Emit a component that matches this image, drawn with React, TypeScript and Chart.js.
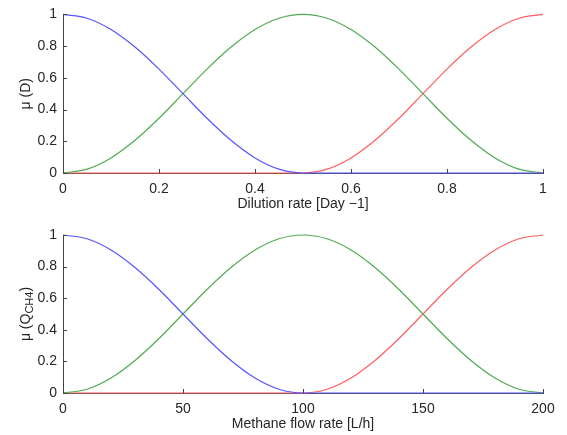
import React, { useEffect, useRef } from "react";
import { Chart, registerables } from "chart.js";
Chart.register(...registerables);

// ---- data ----
const dilutionX = [0, 0.05, 0.1, 0.15, 0.2, 0.25, 0.3, 0.35, 0.4, 0.45, 0.5, 0.55, 0.6, 0.65, 0.7, 0.75, 0.8, 0.85, 0.9, 0.95, 1];
const dilutionLow = [1, 0.976, 0.905, 0.794, 0.655, 0.5, 0.345, 0.206, 0.095, 0.024, 0, 0, 0, 0, 0, 0, 0, 0, 0, 0, 0];
const dilutionMid = [0, 0.024, 0.095, 0.206, 0.345, 0.5, 0.655, 0.794, 0.905, 0.976, 1, 0.976, 0.905, 0.794, 0.655, 0.5, 0.345, 0.206, 0.095, 0.024, 0];
const dilutionHigh = [0, 0, 0, 0, 0, 0, 0, 0, 0, 0, 0, 0.024, 0.095, 0.206, 0.345, 0.5, 0.655, 0.794, 0.905, 0.976, 1];

const methaneX = [0, 10, 20, 30, 40, 50, 60, 70, 80, 90, 100, 110, 120, 130, 140, 150, 160, 170, 180, 190, 200];
const methaneLow = [1, 0.976, 0.905, 0.794, 0.655, 0.5, 0.345, 0.206, 0.095, 0.024, 0, 0, 0, 0, 0, 0, 0, 0, 0, 0, 0];
const methaneMid = [0, 0.024, 0.095, 0.206, 0.345, 0.5, 0.655, 0.794, 0.905, 0.976, 1, 0.976, 0.905, 0.794, 0.655, 0.5, 0.345, 0.206, 0.095, 0.024, 0];
const methaneHigh = [0, 0, 0, 0, 0, 0, 0, 0, 0, 0, 0, 0.024, 0.095, 0.206, 0.345, 0.5, 0.655, 0.794, 0.905, 0.976, 1];

const dilutionTicks = [0, 0.2, 0.4, 0.6, 0.8, 1];
const methaneTicks = [0, 50, 100, 150, 200];
const muTicks = [0, 0.2, 0.4, 0.6, 0.8, 1];

const dilutionTitle = "Dilution rate [Day \u22121]";
const methaneTitle = "Methane flow rate [L/h]";

// ---- styles ----
const FONT_FAMILY = "'Liberation Sans', Arial, Helvetica, sans-serif";
const FONT_SIZE = 14;
const AXIS = "#444444";
const TEXT = "#262626";
const BLUE = "rgb(85,85,255)";
const GREEN = "rgb(80,170,80)";
const RED = "rgb(255,95,95)";

type TitlePart = { text: string; sub?: boolean };

const decor = {
  id: "decor",
  afterDraw(chart: any, _args: any, opts: any) {
    const { ctx, chartArea: a, scales } = chart;
    ctx.save();
    ctx.strokeStyle = AXIS;
    ctx.lineWidth = 1;
    ctx.beginPath();
    for (const v of opts.xTicks) {
      const px = Math.round(scales.x.getPixelForValue(v)) + 0.5;
      ctx.moveTo(px, a.bottom);
      ctx.lineTo(px, a.bottom - 4);
    }
    for (const v of opts.yTicks) {
      const py = Math.round(scales.y.getPixelForValue(v)) + 0.5;
      ctx.moveTo(a.left, py);
      ctx.lineTo(a.left + 4, py);
    }
    ctx.stroke();

    ctx.fillStyle = TEXT;
    ctx.font = `${FONT_SIZE}px ${FONT_FAMILY}`;
    ctx.textAlign = "center";
    ctx.textBaseline = "middle";
    ctx.fillText(opts.xTitle, (a.left + a.right) / 2, a.bottom + 31);

    // y title (rotated, with optional subscript)
    const parts: TitlePart[] = opts.yTitle;
    const mainFont = `${FONT_SIZE}px ${FONT_FAMILY}`;
    const subFont = `${FONT_SIZE - 3}px ${FONT_FAMILY}`;
    let total = 0;
    for (const p of parts) {
      ctx.font = p.sub ? subFont : mainFont;
      total += ctx.measureText(p.text).width;
    }
    ctx.translate(26, (a.top + a.bottom) / 2);
    ctx.rotate(-Math.PI / 2);
    ctx.textAlign = "left";
    ctx.textBaseline = "middle";
    let x = -total / 2;
    for (const p of parts) {
      ctx.font = p.sub ? subFont : mainFont;
      ctx.fillText(p.text, x, p.sub ? 4 : 0);
      x += ctx.measureText(p.text).width;
    }
    ctx.restore();
  },
};

function makeConfig(
  xs: number[],
  low: number[],
  mid: number[],
  high: number[],
  xTicks: number[],
  xTitle: string,
  yTitle: TitlePart[],
  padTop: number,
  xAxisHeight: number
): any {
  const pts = (ys: number[]) => xs.map((x, i) => ({ x, y: ys[i] }));
  const ds = (ys: number[], color: string) => ({
    data: pts(ys),
    borderColor: color,
    borderWidth: 1.2,
    pointRadius: 0,
    fill: false,
    cubicInterpolationMode: "monotone",
    clip: false,
  });
  return {
    type: "line",
    data: { datasets: [ds(low, BLUE), ds(mid, GREEN), ds(high, RED)] },
    plugins: [decor],
    options: {
      animation: false,
      responsive: false,
      events: [],
      layout: { padding: { top: padTop, right: 24, left: 0, bottom: 0 } },
      plugins: {
        legend: { display: false },
        tooltip: { enabled: false },
        decor: { xTicks, yTicks: muTicks, xTitle, yTitle },
      },
      scales: {
        x: {
          type: "linear",
          min: xTicks[0],
          max: xTicks[xTicks.length - 1],
          afterBuildTicks: (s: any) => {
            s.ticks = xTicks.map((v) => ({ value: v }));
          },
          afterFit: (s: any) => {
            s.height = xAxisHeight;
          },
          grid: { display: false, drawTicks: false },
          border: { display: true, color: AXIS, width: 1 },
          ticks: {
            padding: 8,
            color: TEXT,
            font: { family: FONT_FAMILY, size: FONT_SIZE },
            maxRotation: 0,
            autoSkip: false,
            callback: (v: any) => String(v),
          },
        },
        y: {
          type: "linear",
          min: 0,
          max: 1,
          afterBuildTicks: (s: any) => {
            s.ticks = muTicks.map((v) => ({ value: v }));
          },
          afterFit: (s: any) => {
            s.width = 63;
          },
          grid: { display: false, drawTicks: false },
          border: { display: true, color: AXIS, width: 1 },
          ticks: {
            padding: 6,
            color: TEXT,
            font: { family: FONT_FAMILY, size: FONT_SIZE },
            autoSkip: false,
            callback: (v: any) => String(v),
          },
        },
      },
    },
  };
}

function ChartCanvas({ config, top, height }: { config: any; top: number; height: number }) {
  const ref = useRef<HTMLCanvasElement | null>(null);
  useEffect(() => {
    if (!ref.current) return;
    const chart = new Chart(ref.current, config);
    return () => chart.destroy();
  }, [config]);
  return (
    <canvas
      ref={ref}
      width={567}
      height={height}
      style={{ position: "absolute", left: 0, top, width: 567, height, display: "block" }}
    />
  );
}

const topConfig = makeConfig(
  dilutionX,
  dilutionLow,
  dilutionMid,
  dilutionHigh,
  dilutionTicks,
  dilutionTitle,
  [{ text: "\u03bc (D)" }],
  14,
  44
);
const bottomConfig = makeConfig(
  methaneX,
  methaneLow,
  methaneMid,
  methaneHigh,
  methaneTicks,
  methaneTitle,
  [{ text: "\u03bc (Q" }, { text: "CH4", sub: true }, { text: ")" }],
  18,
  42
);

export default function App() {
  return (
    <div style={{ position: "absolute", left: 0, top: 0, width: 567, height: 435, background: "#fff" }}>
      <ChartCanvas config={topConfig} top={0} height={217} />
      <ChartCanvas config={bottomConfig} top={217} height={218} />
    </div>
  );
}
